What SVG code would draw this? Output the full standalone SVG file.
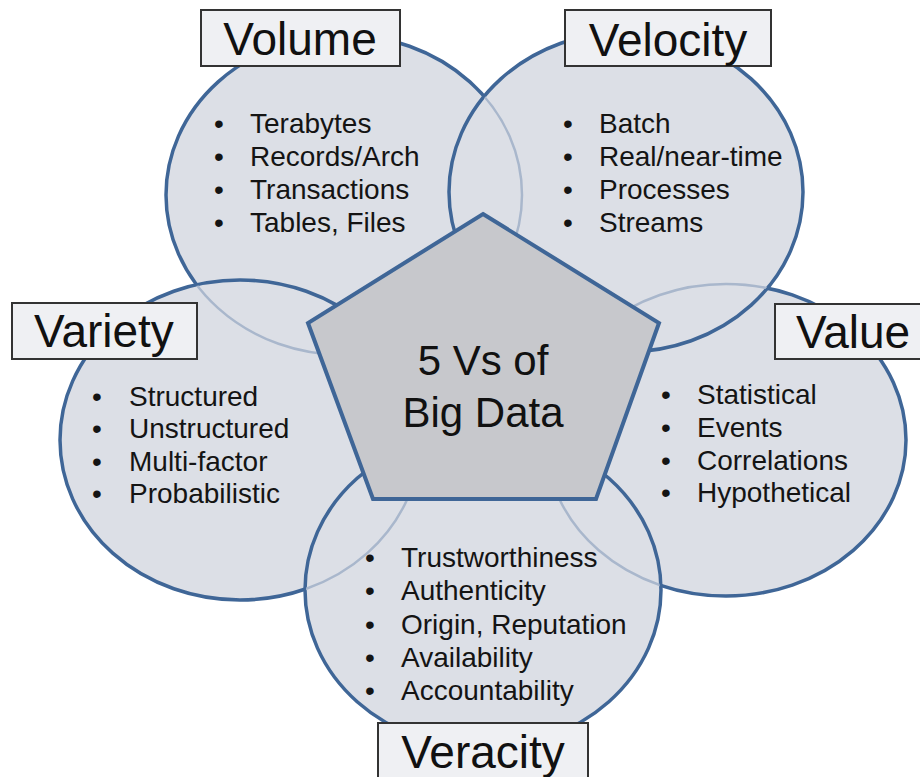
<svg xmlns="http://www.w3.org/2000/svg" width="920" height="777" viewBox="0 0 920 777">
<style>
.c{fill:#dcdfe6;stroke:#3f6697;stroke-width:3.5}
.f{fill:none;stroke:#a9b7cc;stroke-width:2.5}
.lb{fill:#eff0f3;stroke:#333333;stroke-width:2}
.lt{font-family:"Liberation Sans",Arial,sans-serif;font-size:46px;fill:#111;text-anchor:middle}
.it{font-family:"Liberation Sans",Arial,sans-serif;font-size:28px;fill:#141414}
.bu{font-family:"Liberation Sans",Arial,sans-serif;font-size:28px;fill:#141414;text-anchor:middle}
.ct{font-family:"Liberation Sans",Arial,sans-serif;font-size:42px;fill:#111;text-anchor:middle}
</style>
<defs>
<clipPath id="inVel"><ellipse cx="626" cy="192" rx="176" ry="159"/></clipPath>
<clipPath id="inVar"><ellipse cx="240" cy="440" rx="179" ry="159"/></clipPath>
<clipPath id="inVer"><ellipse cx="483" cy="590" rx="177" ry="157"/></clipPath>
</defs>
<rect width="920" height="777" fill="#ffffff"/>
<g id="connectors"></g>
<g id="volume">
<ellipse class="c" cx="344" cy="195" rx="178" ry="160"/>
<g class="bu"><text x="219" y="133">•</text><text x="219" y="166">•</text><text x="219" y="199">•</text><text x="219" y="232">•</text></g>
<g class="it"><text x="250" y="133">Terabytes</text><text x="250" y="166">Records/Arch</text><text x="250" y="199">Transactions</text><text x="250" y="232">Tables, Files</text></g>
<rect class="lb" x="201" y="10" width="199" height="56"/>
<text class="lt" x="300" y="55">Volume</text>
</g>
<g id="value">
<ellipse class="c" cx="726" cy="440" rx="180" ry="156"/>
<g class="bu"><text x="666" y="404">•</text><text x="666" y="437">•</text><text x="666" y="470">•</text><text x="666" y="502">•</text></g>
<g class="it"><text x="697" y="404">Statistical</text><text x="697" y="437">Events</text><text x="697" y="470">Correlations</text><text x="697" y="502">Hypothetical</text></g>
<rect class="lb" x="775" y="304" width="160" height="55"/>
<text class="lt" x="853" y="348">Value</text>
</g>
<g id="variety">
<ellipse class="c" cx="240" cy="440" rx="180" ry="160"/>
<g class="bu"><text x="97" y="406">•</text><text x="97" y="438">•</text><text x="97" y="471">•</text><text x="97" y="503">•</text></g>
<g class="it"><text x="129" y="406">Structured</text><text x="129" y="438">Unstructured</text><text x="129" y="471">Multi-factor</text><text x="129" y="503">Probabilistic</text></g>
<rect class="lb" x="12" y="303" width="185" height="56"/>
<text class="lt" x="104" y="347">Variety</text>
</g>
<g id="velocity">
<ellipse class="c" cx="626" cy="192" rx="177" ry="160"/>
<g class="bu"><text x="568" y="133">•</text><text x="568" y="166">•</text><text x="568" y="199">•</text><text x="568" y="232">•</text></g>
<g class="it"><text x="599" y="133">Batch</text><text x="599" y="166">Real/near-time</text><text x="599" y="199">Processes</text><text x="599" y="232">Streams</text></g>
<rect class="lb" x="565" y="10" width="206" height="56"/>
<text class="lt" x="668" y="56">Velocity</text>
</g>
<g id="veracity">
<ellipse class="c" cx="483" cy="590" rx="178" ry="158"/>
<g class="bu"><text x="370" y="567">•</text><text x="370" y="600">•</text><text x="370" y="634">•</text><text x="370" y="667">•</text><text x="370" y="700">•</text></g>
<g class="it"><text x="401" y="567">Trustworthiness</text><text x="401" y="600">Authenticity</text><text x="401" y="634">Origin, Reputation</text><text x="401" y="667">Availability</text><text x="401" y="700">Accountability</text></g>
<rect class="lb" x="378" y="723" width="210" height="60"/>
<text class="lt" x="483" y="768">Veracity</text>
</g>
<g id="hidden-outlines">
<ellipse class="f" cx="344" cy="195" rx="178" ry="160" clip-path="url(#inVel)"/>
<ellipse class="f" cx="344" cy="195" rx="178" ry="160" clip-path="url(#inVar)"/>
<ellipse class="f" cx="726" cy="440" rx="180" ry="156" clip-path="url(#inVel)"/>
<ellipse class="f" cx="726" cy="440" rx="180" ry="156" clip-path="url(#inVer)"/>
<ellipse class="f" cx="240" cy="440" rx="180" ry="160" clip-path="url(#inVer)"/>
</g>
<g id="center">
<polygon points="483,214 659,323 596,499 373,499 308,323" fill="#c7c8cc" stroke="#3f6697" stroke-width="4" stroke-linejoin="miter"/>
<text class="ct" x="483" y="375">5 Vs of</text>
<text class="ct" x="483" y="427">Big Data</text>
</g>
</svg>
